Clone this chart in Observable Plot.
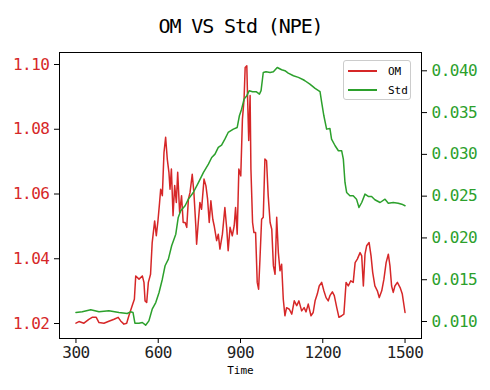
<!DOCTYPE html>
<html>
<head>
<meta charset="utf-8">
<script src="https://cdn.jsdelivr.net/npm/d3@7"></script>
<script src="https://cdn.jsdelivr.net/npm/@observablehq/plot@0.6"></script>
<style>
  html, body { margin: 0; padding: 0; background: #fff; }
  #wrap { position: relative; width: 490px; height: 390px; }
  #legend { position: absolute; left: 343px; top: 60px; width: 68px; height: 40px;
    border: 1px solid #cccccc; border-radius: 3px; background: rgba(255,255,255,0.8);
    font-family: "DejaVu Sans Mono", monospace; font-size: 11px; color: #000; box-sizing: border-box; }
  .row { position: absolute; left: 4px; height: 12px; display: flex; align-items: center; }
  .sw { display: inline-block; width: 29px; height: 1.5px; margin-right: 11px; }
</style>
</head>
<body>
<div id="wrap"><div id="legend">
  <div class="row" style="top:4px"><span class="sw" style="background:#d62728"></span><span>OM</span></div>
  <div class="row" style="top:23px"><span class="sw" style="background:#2ca02c"></span><span>Std</span></div>
</div></div>
<script>
const title = "OM VS Std (NPE)";
const xLabel = "Time";
const xTicks = [300, 600, 900, 1200, 1500];
const leftTicks = [1.02, 1.04, 1.06, 1.08, 1.10];
const rightTicks = [0.010, 0.015, 0.020, 0.025, 0.030, 0.035, 0.040];

const omTime = [300,311,329,347,359,374,384,402,420,439,454,463,475,485,493,505,513,518,530,542,548,552,558,564,572,578,587,593,599,605,609,615,621,627,633,639,643,648,654,660,666,671,678,685,691,698,704,710,716,724,730,737,740,746,752,758,767,774,780,786,792,799,804,813,819,825,834,843,850,855,862,870,877,882,888,894,901,907,913,917,923,926,930,935,938,944,949,955,961,966,971,977,983,989,995,1001,1008,1014,1020,1026,1032,1038,1044,1050,1056,1062,1068,1078,1087,1096,1105,1113,1123,1132,1139,1147,1157,1165,1172,1180,1187,1196,1204,1212,1220,1226,1235,1242,1251,1259,1269,1277,1285,1293,1302,1311,1318,1326,1336,1342,1348,1354,1360,1369,1376,1382,1390,1399,1406,1415,1423,1431,1439,1445,1451,1457,1463,1472,1482,1490,1500];
const omValue = [1.0201,1.0206,1.0201,1.0213,1.0219,1.0219,1.0203,1.0201,1.0207,1.0213,1.0219,1.0208,1.0198,1.0201,1.0224,1.0255,1.0275,1.0347,1.0337,1.0347,1.0327,1.0270,1.0265,1.0327,1.0352,1.0450,1.0517,1.0471,1.0517,1.0574,1.0615,1.0595,1.0728,1.0775,1.0708,1.0667,1.0615,1.0677,1.0533,1.0626,1.0574,1.0667,1.0543,1.0595,1.0512,1.0512,1.0497,1.0584,1.0605,1.0661,1.0605,1.0502,1.0445,1.0512,1.0574,1.0553,1.0646,1.0625,1.0584,1.0512,1.0579,1.0522,1.0502,1.0456,1.0476,1.0430,1.0476,1.0558,1.0491,1.0425,1.0497,1.0471,1.0502,1.0558,1.0476,1.0677,1.0656,1.0831,1.0893,1.0991,1.0996,1.0893,1.0765,1.0904,1.0677,1.0512,1.0481,1.0481,1.0327,1.0306,1.0399,1.0522,1.0528,1.0708,1.0703,1.0595,1.0512,1.0491,1.0378,1.0352,1.0528,1.0419,1.0363,1.0383,1.0275,1.0224,1.0249,1.0244,1.0229,1.0270,1.0255,1.0270,1.0239,1.0249,1.0236,1.0260,1.0224,1.0234,1.0270,1.0291,1.0316,1.0327,1.0301,1.0280,1.0270,1.0286,1.0298,1.0286,1.0249,1.0219,1.0224,1.0229,1.0327,1.0316,1.0332,1.0327,1.0388,1.0399,1.0419,1.0409,1.0316,1.0414,1.0440,1.0450,1.0409,1.0358,1.0316,1.0301,1.0280,1.0301,1.0337,1.0388,1.0414,1.0378,1.0316,1.0296,1.0316,1.0327,1.0311,1.0291,1.0234];

const stdTime = [300,323,354,384,420,457,487,499,508,515,530,542,554,566,578,591,603,615,625,637,649,664,673,682,698,710,728,747,765,783,795,807,819,831,843,855,874,888,896,904,913,923,932,944,957,969,975,983,993,1008,1020,1034,1050,1062,1074,1093,1111,1129,1135,1153,1172,1190,1196,1204,1214,1226,1232,1245,1257,1269,1275,1281,1287,1299,1311,1323,1332,1342,1354,1366,1378,1390,1409,1427,1439,1457,1475,1488,1500];
const stdValue = [0.01108,0.01116,0.01140,0.01116,0.01128,0.01108,0.01096,0.01116,0.01108,0.00980,0.00980,0.00988,0.00956,0.01008,0.01147,0.01227,0.01347,0.01506,0.01667,0.01746,0.01906,0.02045,0.02245,0.02325,0.02385,0.02464,0.02544,0.02664,0.02784,0.02883,0.02963,0.03003,0.03083,0.03110,0.03182,0.03262,0.03302,0.03322,0.03462,0.03541,0.03661,0.03702,0.03762,0.03750,0.03750,0.03721,0.03762,0.03980,0.03989,0.03980,0.03989,0.04040,0.04013,0.04001,0.03972,0.03941,0.03921,0.03893,0.03881,0.03840,0.03789,0.03750,0.03621,0.03462,0.03302,0.03310,0.03182,0.03103,0.03043,0.03043,0.02943,0.02664,0.02544,0.02505,0.02505,0.02464,0.02365,0.02424,0.02524,0.02496,0.02496,0.02457,0.02424,0.02464,0.02416,0.02424,0.02416,0.02404,0.02385];

const RED = "#d62728", GREEN = "#2ca02c";
const leftDomain = [1.01537, 1.10371];
const rightDomain = [0.007966, 0.04219];
const toLeft = d3.scaleLinear().domain(rightDomain).range(leftDomain);

const om = omTime.map((t, i) => ({t, v: omValue[i]}));
const std = stdTime.map((t, i) => ({t, v: toLeft(stdValue[i])}));

const chart = Plot.plot({
  width: 490,
  height: 390,
  marginLeft: 59,
  marginRight: 69,
  marginTop: 52,
  marginBottom: 52,
  style: {fontFamily: "'DejaVu Sans Mono', monospace", fontSize: "16px", letterSpacing: "-0.5px", background: "white", color: "black"},
  x: {domain: [240, 1560]},
  y: {domain: leftDomain},
  marks: [
    Plot.line(om, {x: "t", y: "v", stroke: RED, strokeWidth: 1.5}),
    Plot.line(std, {x: "t", y: "v", stroke: GREEN, strokeWidth: 1.5}),
    Plot.frame({stroke: "black", strokeWidth: 1}),
    Plot.axisX(xTicks, {tickSize: 5, tickPadding: 3, fill: "#222", stroke: "black", label: null, tickFormat: d => String(d)}),
    Plot.axisY(leftTicks, {anchor: "left", tickSize: 5, tickPadding: 5, fill: RED, stroke: "black", label: null, tickFormat: d => d.toFixed(2)}),
    Plot.axisY(rightTicks.map(r => toLeft(r)), {anchor: "right", tickSize: 5, tickPadding: 5, fill: GREEN, stroke: "black", label: null, tickFormat: d => toLeft.invert(d).toFixed(3)}),
    Plot.text([xLabel], {frameAnchor: "bottom", dy: 35, text: d => d, fontSize: 11, fill: "black"}),
    Plot.text([title], {frameAnchor: "top", dy: -34, text: d => d, fontSize: 20, fill: "black", style: ""})
  ]
});
chart.querySelectorAll("text").forEach(t => {
  if (t.textContent === title) t.setAttribute("letter-spacing", "-1.1px");
  if (t.textContent === xLabel) t.setAttribute("letter-spacing", "0px");
});
document.getElementById("wrap").prepend(chart);
</script>
</body>
</html>
